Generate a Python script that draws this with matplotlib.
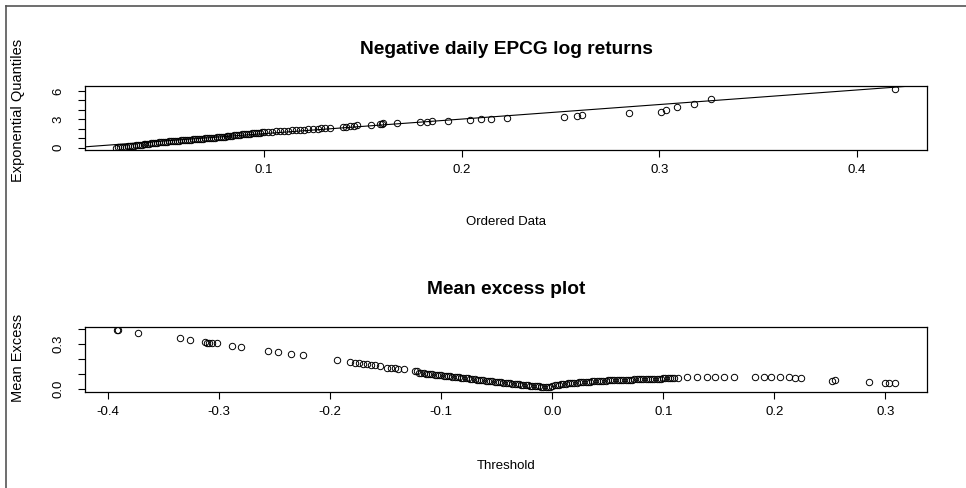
import matplotlib
matplotlib.use("Agg")
import matplotlib.pyplot as plt
from matplotlib.lines import Line2D

plt.rcParams['font.family'] = ['Liberation Sans', 'DejaVu Sans']

# --- QQ plot: ordered exceedances vs exponential quantiles
qq_x = [
    0.025, 0.026, 0.027, 0.028, 0.029, 0.030, 0.031, 0.032, 0.033, 0.034,
    0.035, 0.036, 0.037, 0.038, 0.039, 0.040, 0.041, 0.042, 0.043, 0.044,
    0.045, 0.046, 0.047, 0.048, 0.049, 0.050, 0.051, 0.052, 0.053, 0.054,
    0.055, 0.056, 0.057, 0.058, 0.059, 0.060, 0.061, 0.062, 0.063, 0.064,
    0.065, 0.066, 0.067, 0.068, 0.069, 0.070, 0.071, 0.072, 0.073, 0.074,
    0.075, 0.076, 0.077, 0.078, 0.079, 0.080, 0.081, 0.082, 0.083, 0.084,
    0.085, 0.086, 0.087, 0.088, 0.089, 0.090, 0.091, 0.092, 0.093, 0.094,
    0.095, 0.096, 0.097, 0.098, 0.099, 0.100,
    0.102, 0.104, 0.106, 0.108, 0.110, 0.112, 0.114, 0.116, 0.118, 0.120,
    0.122, 0.125, 0.1275, 0.129, 0.131, 0.1334, 0.140, 0.1417, 0.1434,
    0.1453, 0.147, 0.154, 0.1585, 0.1597, 0.160, 0.167, 0.179, 0.1822,
    0.185, 0.193, 0.204, 0.210, 0.215, 0.223, 0.2519, 0.2583, 0.2606,
    0.2844, 0.301, 0.3033, 0.3091, 0.3174, 0.3261, 0.4194,
]
qq_y = [
    0.00, 0.03, 0.05, 0.08, 0.10, 0.13, 0.16, 0.18, 0.21, 0.23,
    0.26, 0.29, 0.31, 0.34, 0.36, 0.39, 0.42, 0.44, 0.47, 0.49,
    0.52, 0.54, 0.56, 0.59, 0.61, 0.63, 0.65, 0.67, 0.69, 0.70,
    0.72, 0.74, 0.76, 0.78, 0.80, 0.82, 0.84, 0.86, 0.87, 0.89,
    0.91, 0.93, 0.94, 0.96, 0.97, 0.99, 1.00, 1.02, 1.03, 1.05,
    1.06, 1.09, 1.11, 1.13, 1.16, 1.18, 1.21, 1.23, 1.25, 1.28,
    1.30, 1.33, 1.35, 1.37, 1.40, 1.42, 1.45, 1.47, 1.49, 1.52,
    1.54, 1.57, 1.59, 1.61, 1.64, 1.66,
    1.68, 1.70, 1.72, 1.75, 1.78, 1.80, 1.83, 1.85, 1.87, 1.90,
    1.93, 1.97, 2.02, 2.05, 2.08, 2.12, 2.20, 2.24, 2.28,
    2.33, 2.37, 2.45, 2.50, 2.54, 2.58, 2.65, 2.72, 2.76,
    2.80, 2.88, 2.95, 3.00, 3.08, 3.17, 3.27, 3.38, 3.51,
    3.65, 3.82, 4.02, 4.27, 4.61, 5.12, 6.21,
]
fit_intercept = -0.05
fit_slope = 15.4

# --- mean excess plot
me_u = [
    -0.3925, -0.391, -0.373, -0.3354, -0.3264, -0.3128, -0.311, -0.309, -0.307,
    -0.3024, -0.289, -0.2805, -0.256, -0.247, -0.235, -0.2249, -0.1937,
    -0.1823, -0.1781, -0.1744, -0.1706, -0.1669, -0.1633, -0.1594, -0.155,
    -0.1486, -0.145, -0.1417, -0.139, -0.1336, -0.1237, -0.1215,
    -0.120, -0.118, -0.116, -0.114, -0.112, -0.110, -0.108, -0.106, -0.104, -0.102,
    -0.100, -0.098, -0.096, -0.094, -0.092, -0.090, -0.088, -0.086, -0.084, -0.082,
    -0.080, -0.078, -0.076, -0.074, -0.072, -0.070, -0.068, -0.066, -0.064, -0.062,
    -0.060, -0.058, -0.056, -0.054, -0.052, -0.050, -0.048, -0.046, -0.044, -0.042,
    -0.040, -0.038, -0.036, -0.034, -0.032, -0.030, -0.028, -0.026, -0.024, -0.022,
    -0.020, -0.018, -0.016, -0.014, -0.012, -0.010, -0.008, -0.006, -0.004, -0.002,
    0.000, 0.002, 0.004, 0.006, 0.008, 0.010, 0.012, 0.014, 0.016, 0.018,
    0.020, 0.022, 0.024, 0.026, 0.028, 0.030, 0.032, 0.034, 0.036, 0.038,
    0.040, 0.042, 0.044, 0.046, 0.048, 0.050, 0.052, 0.054, 0.056, 0.058,
    0.060, 0.062, 0.064, 0.066, 0.068, 0.070, 0.072, 0.074, 0.076, 0.078,
    0.080, 0.082, 0.084, 0.086, 0.088, 0.090, 0.092, 0.094, 0.096, 0.098,
    0.100, 0.102, 0.104, 0.106, 0.108, 0.110,
    0.113, 0.121, 0.130, 0.139, 0.147, 0.155, 0.164, 0.183, 0.191, 0.197,
    0.205, 0.213, 0.219, 0.224, 0.252, 0.255, 0.285, 0.300, 0.303, 0.309,
]
me_val = [
    0.392, 0.391, 0.373, 0.340, 0.329, 0.310, 0.309, 0.309, 0.309,
    0.307, 0.285, 0.280, 0.251, 0.247, 0.236, 0.225, 0.191,
    0.178, 0.175, 0.172, 0.168, 0.164, 0.161, 0.158, 0.155,
    0.142, 0.140, 0.137, 0.135, 0.132, 0.120, 0.118,
    0.108, 0.106, 0.105, 0.103, 0.101, 0.099, 0.098, 0.096, 0.094, 0.092,
    0.091, 0.089, 0.087, 0.086, 0.084, 0.082, 0.080, 0.079, 0.077, 0.075,
    0.073, 0.072, 0.070, 0.068, 0.067, 0.065, 0.063, 0.061, 0.060, 0.058,
    0.056, 0.054, 0.053, 0.051, 0.049, 0.048, 0.046, 0.044, 0.042, 0.041,
    0.039, 0.037, 0.035, 0.034, 0.032, 0.030, 0.029, 0.027, 0.026, 0.024,
    0.023, 0.021, 0.020, 0.018, 0.017, 0.016, 0.015, 0.014, 0.013, 0.012,
    0.020, 0.024, 0.027, 0.029, 0.031, 0.033, 0.035, 0.037, 0.038, 0.040,
    0.041, 0.043, 0.044, 0.045, 0.046, 0.047, 0.048, 0.049, 0.050, 0.051,
    0.052, 0.053, 0.054, 0.055, 0.056, 0.057, 0.058, 0.058, 0.059, 0.060,
    0.060, 0.061, 0.061, 0.062, 0.062, 0.063, 0.063, 0.064, 0.064, 0.065,
    0.065, 0.066, 0.066, 0.066, 0.067, 0.067, 0.068, 0.068, 0.069, 0.069,
    0.070, 0.071, 0.072, 0.073, 0.074, 0.075,
    0.075, 0.079, 0.080, 0.080, 0.081, 0.082, 0.083, 0.081, 0.081, 0.080,
    0.078, 0.077, 0.076, 0.075, 0.056, 0.060, 0.044, 0.039, 0.042, 0.043,
]

top_xticks = [0.1, 0.2, 0.3, 0.4]
top_yticks = [0, 1, 2, 3, 4, 5, 6]
top_ylabels = ['0', '', '', '3', '', '', '6']
bot_xticks = [-0.4, -0.3, -0.2, -0.1, 0.0, 0.1, 0.2, 0.3]
bot_yticks = [0.0, 0.1, 0.2, 0.3, 0.4]
bot_ylabels = ['0.0', '', '', '0.3', '']

W, H = 966, 488
fig = plt.figure(figsize=(W / 100, H / 100), dpi=100)

def box(l, t, r, b):
    return [l / W, 1 - b / H, (r - l) / W, (b - t) / H]

def label(x, y, s, **kw):
    fig.text(x / W, 1 - y / H, s, ha='center', va='center', **kw)

mk = dict(marker='o', linestyle='none', markersize=4.6, markerfacecolor='none',
          markeredgecolor='black', markeredgewidth=0.7)

def style(ax):
    for s in ax.spines.values():
        s.set_linewidth(0.9)
    ax.tick_params(axis='x', direction='out', length=5, width=0.8, labelsize=9.5, pad=5)
    ax.tick_params(axis='y', direction='out', length=5, width=0.8, labelsize=9.5, pad=10)
    for lab in ax.get_yticklabels():
        lab.set_rotation(90)
        lab.set_va('center')

# top panel
ax1 = fig.add_axes(box(85, 86, 927, 150))
ax1.plot(qq_x, qq_y, **mk)
ax1.axline((0, fit_intercept), slope=fit_slope, color='black', linewidth=0.8)
ax1.set_xlim(0.0094, 0.4354)
ax1.set_ylim(-0.24, 6.53)
ax1.set_xticks(top_xticks)
ax1.set_xticklabels(['0.1', '0.2', '0.3', '0.4'])
ax1.set_yticks(top_yticks)
ax1.set_yticklabels(top_ylabels)
style(ax1)
label(506, 50, 'Negative daily EPCG log returns', fontsize=13.8, fontweight='bold')
label(506, 222, 'Ordered Data', fontsize=9.5)
label(18, 110, 'Exponential Quantiles', fontsize=10.5, rotation=90)

# bottom panel
ax2 = fig.add_axes(box(85, 327, 927, 392))
ax2.plot(me_u, me_val, **mk)
ax2.set_xlim(-0.421, 0.3376)
ax2.set_ylim(-0.02, 0.413)
ax2.set_xticks(bot_xticks)
ax2.set_xticklabels(['-0.4', '-0.3', '-0.2', '-0.1', '0.0', '0.1', '0.2', '0.3'])
ax2.set_yticks(bot_yticks)
ax2.set_yticklabels(bot_ylabels)
style(ax2)
label(506, 290, 'Mean excess plot', fontsize=13.8, fontweight='bold')
label(506, 466, 'Threshold', fontsize=9.5)
label(18, 358, 'Mean Excess', fontsize=10.5, rotation=90)

# outer frame (left and top edges visible)
fig.add_artist(Line2D([6 / W, 6 / W], [0, 1 - 6 / H], color='#555555', linewidth=1.2))
fig.add_artist(Line2D([6 / W, 1], [1 - 6 / H, 1 - 6 / H], color='#555555', linewidth=1.2))

fig.savefig('out.png', dpi=100)
